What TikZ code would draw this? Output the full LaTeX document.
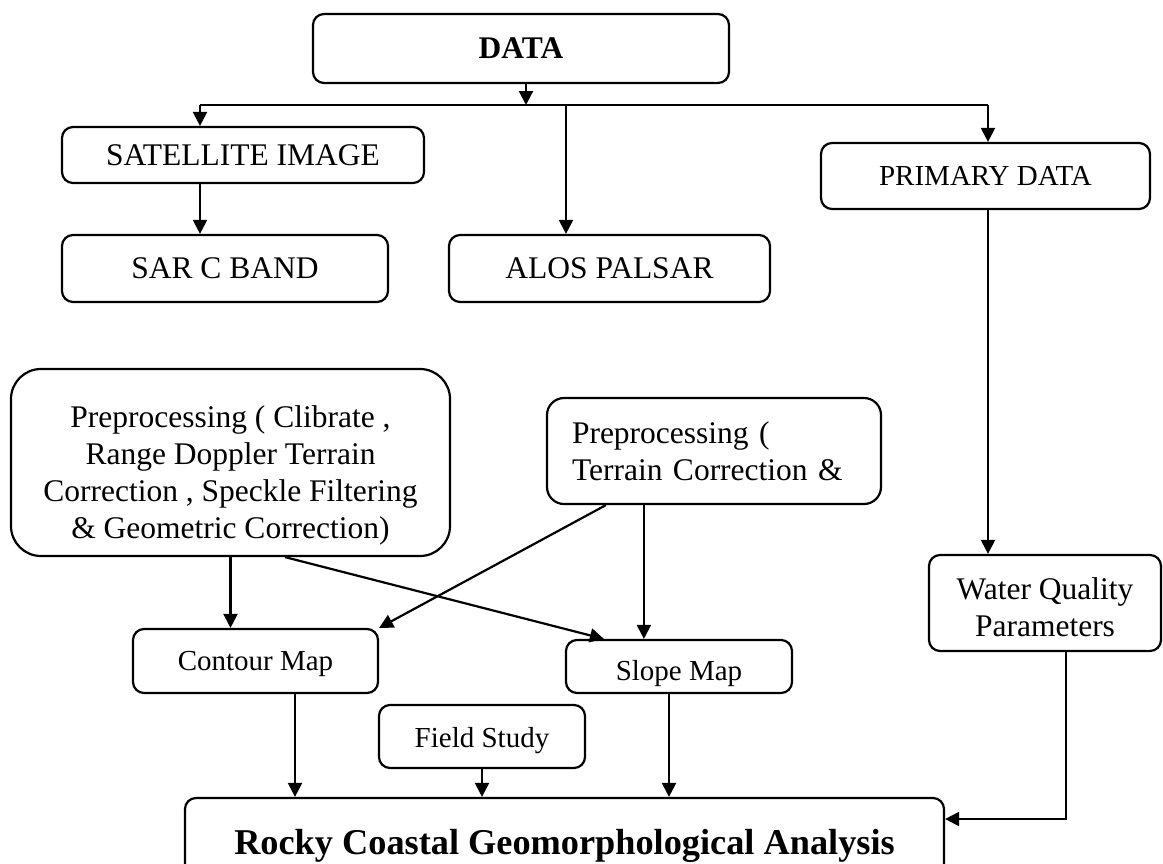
\documentclass[tikz,border=0pt]{standalone}
\usepackage{fontspec}
\setmainfont{Liberation Serif}
\usetikzlibrary{arrows.meta,positioning,calc}
\newcommand{\fmain}{\fontsize{31.5}{37}\selectfont}
\newcommand{\fsmall}{\fontsize{29}{34}\selectfont}
\newcommand{\fbig}{\fontsize{36.3}{42}\selectfont\bfseries}
\newcommand{\low}[2]{\raisebox{-#1}[0pt][0pt]{#2}}
\tikzset{
  >={Triangle[length=14pt,width=14pt]},
  box/.style={draw,rounded corners=11pt,line width=2.2pt,inner sep=0pt,align=center,font=\fmain},
  sbox/.style={box,font=\fsmall},
  pbox/.style={box,rounded corners=30pt},
  arr/.style={->,line width=2.2pt},
  ln/.style={line width=2.2pt},
}

\begin{document}
\begin{tikzpicture}[x=1pt,y=-1pt]
\useasboundingbox (0,0) rectangle (1163,863);
% sources
\node[box,font=\fmain\bfseries,minimum width=416pt,minimum height=69pt] (data) at (521,48.5) {DATA};
\node[box,minimum width=362pt,minimum height=56pt] (sat) at (243,155) {SATELLITE IMAGE};
\node[box,minimum width=326pt,minimum height=67pt] (sar) at (225,268.5) {SAR C BAND};
\node[box,minimum width=321pt,minimum height=67pt] (alos) at (609.5,268.5) {ALOS PALSAR};
\node[sbox,minimum width=329pt,minimum height=66pt] (prim) at (985.5,176) {PRIMARY DATA};
% processing
\node[pbox,minimum width=439pt,minimum height=187pt] (prel) at (230.5,462.5) {\rule{0pt}{47pt}Preprocessing ( Clibrate ,\\Range Doppler Terrain\\Correction , Speckle Filtering\\\& Geometric Correction)};
\node[box,rounded corners=17pt,minimum width=334pt,minimum height=106pt,text width=284pt,align=left] (prer) at (714,451) {Preprocessing (\\Terrain Correction \&};
\node[sbox,minimum width=245pt,minimum height=64pt] (cont) at (255.5,661) {\low{9pt}{Contour Map}};
\node[sbox,minimum width=226pt,minimum height=53pt] (slope) at (679,666.5) {\low{13.5pt}{Slope Map}};
\node[sbox,minimum width=206pt,minimum height=63pt] (field) at (482,736.5) {\low{10.5pt}{Field Study}};
\node[box,minimum width=232pt,minimum height=96pt] (wq) at (1045,603) {\rule{0pt}{30pt}Water Quality\\Parameters};
\node[box,font=\fbig,minimum width=759pt,minimum height=86pt] (rocky) at (564.5,841) {\low{13pt}{Rocky Coastal Geomorphological Analysis}};
% bus below DATA
\coordinate (split) at (526,105);
\coordinate (busL) at (200,105);
\coordinate (busM) at (566,105);
\coordinate (busR) at (988,105);
\draw[arr] (data.south -| split) -- (split);
\draw[ln] (busL) -- (busR);
\draw[arr] (busL) -- (busL |- sat.north);
\draw[arr] (busM) -- (busM |- alos.north);
\draw[arr] (busR) -- (busR |- prim.north);
\draw[arr] (sat.south -| busL) -- (sar.north -| busL);
\draw[arr] (prim.south -| busR) -- (wq.north -| busR);
% maps
\draw[arr] (prel.south) -- (prel.south |- cont.north);
\draw[arr] ([xshift=54.5pt]prel.south) -- ([xshift=39pt]slope.north west);
\draw[arr] ([xshift=60pt]prer.south west) -- (cont.north east);
\coordinate (vr) at ([xshift=98pt]prer.south west);
\draw[arr] (vr) -- (vr |- slope.north);
% into analysis
\coordinate (cd) at ([xshift=39.5pt]cont.south);
\coordinate (sd) at ([xshift=-10pt]slope.south);
\coordinate (wd) at ([xshift=21pt]wq.south);
\draw[arr] (cd) -- (cd |- rocky.north);
\draw[arr] (field.south) -- (field.south |- rocky.north);
\draw[arr] (sd) -- (sd |- rocky.north);
\draw[arr] (wd) |- ([yshift=22pt]rocky.east);
\end{tikzpicture}
\end{document}
